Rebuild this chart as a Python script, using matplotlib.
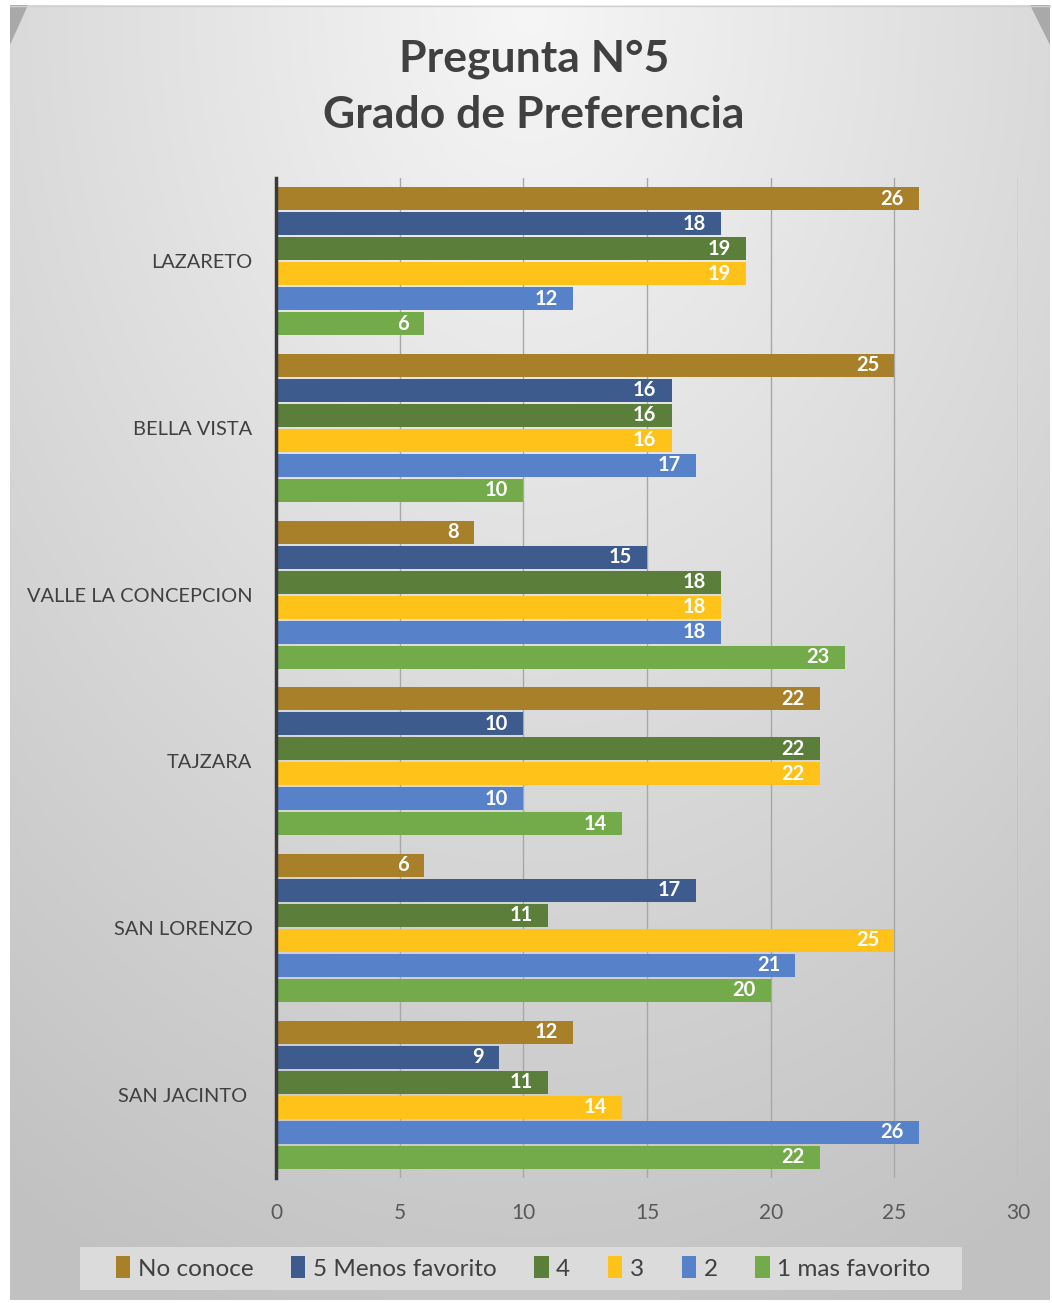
import numpy as np
import matplotlib
matplotlib.use("Agg")
import matplotlib.pyplot as plt
from matplotlib.patches import Polygon, Rectangle

plt.rcParams['font.family'] = ['Lato', 'DejaVu Sans']

categories = ["LAZARETO", "BELLA VISTA", "VALLE LA CONCEPCION", "TAJZARA",
              "SAN LORENZO", "SAN JACINTO "]
series = ["No conoce", "5 Menos favorito", "4", "3", "2", "1 mas favorito"]
colors = ["#A8802A", "#3E5B8E", "#5B7F3B", "#FFC218", "#5782CA", "#73AB4B"]

no_conoce = [26, 25, 8, 22, 6, 12]
menos_fav = [18, 16, 15, 10, 17, 9]
grado4 = [19, 16, 18, 22, 11, 11]
grado3 = [19, 16, 18, 22, 25, 14]
grado2 = [12, 17, 18, 10, 21, 26]
mas_fav = [6, 10, 23, 14, 20, 22]
values = [no_conoce, menos_fav, grado4, grado3, grado2, mas_fav]

W, H = 1052, 1303
fig = plt.figure(figsize=(W / 100, H / 100), dpi=100)
fig.patch.set_facecolor("white")

# gray panel with a soft gradient, lighter towards the top centre
bg = fig.add_axes([0, 0, 1, 1], zorder=-10)
bg.set_xlim(0, W)
bg.set_ylim(H, 0)
bg.axis("off")
xx, yy = np.meshgrid(np.linspace(0, 1, 300), np.linspace(0, 1, 380))
d = np.sqrt(((xx - 0.5) * 1.1) ** 2 + (yy * 0.95) ** 2)
shade = np.clip(0.965 - 0.2 * d, 0.76, 0.97)
img = np.dstack([shade, shade, shade])
bg.imshow(img, extent=(10, 1050, 1300, 5), aspect="auto", interpolation="bilinear")
bg.add_patch(Polygon([(10, 5), (28, 5), (10, 45)], closed=True, color="#a9a9a9", lw=0))
bg.add_patch(Polygon([(1050, 5), (1030, 5), (1050, 45)], closed=True, color="#a9a9a9", lw=0))
bg.plot([10, 1050], [5.5, 5.5], color="#d0d0d0", lw=1)
# legend backing strip
bg.add_patch(Rectangle((80, 1247), 882, 43, color="#dbdbdb", lw=0))

ax = fig.add_axes([276 / W, 1 - 1178 / H, 742 / W, 1000 / H])
ax.set_facecolor("none")

bar_h = 0.15
y0 = np.arange(len(categories))
for j, (name, vals, col) in enumerate(zip(series, values, colors)):
    ys = y0 + (j - 2.5) * bar_h
    ax.barh(ys, vals, height=bar_h * 0.93, color=col, label=name, zorder=3)
    for y, v in zip(ys, vals):
        ax.annotate(str(v), (v, y), xytext=(-11, 0), textcoords="offset points",
                    ha="right", va="center", color="white", fontsize=14.5,
                    fontweight="bold", zorder=4)

ax.set_xlim(0, 30)
ax.set_ylim(len(categories) - 0.5, -0.5)
ax.set_xticks(range(0, 31, 5))
ax.set_yticks(y0)
ax.set_yticklabels(categories)
ax.tick_params(axis="y", length=0, pad=17, labelsize=14.4, labelcolor="#404040")
ax.tick_params(axis="x", length=0, pad=18, labelsize=15, labelcolor="#595959")
ax.grid(axis="x", color="#a8a8a8", lw=1, zorder=0)
for s in ["top", "right", "bottom"]:
    ax.spines[s].set_visible(False)
ax.spines["left"].set_color("#3a3a3a")
ax.spines["left"].set_linewidth(2.5)
ax.spines["left"].set_zorder(5)

fig.text(534 / W, 1 - 87 / H, "Pregunta N°5\nGrado de Preferencia", ha="center",
         va="center", fontsize=32, fontweight="bold", color="#404040",
         linespacing=1.48)

leg = fig.legend(loc="center", bbox_to_anchor=(523 / W, 1 - 1268 / H), ncol=6,
                 frameon=False, fontsize=17.5, handlelength=0.6, handleheight=1.0,
                 handletextpad=0.3, columnspacing=1.55)
for t in leg.get_texts():
    t.set_color("#404040")

fig.savefig("out.png", dpi=100)
